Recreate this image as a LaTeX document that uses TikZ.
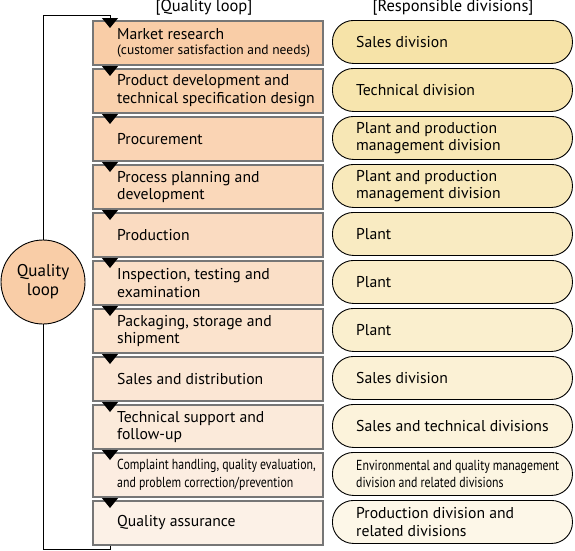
\documentclass[tikz,border=0pt]{standalone}
\usepackage{fontspec}
\setmainfont{PT Sans}
\usepackage{graphicx}
\usetikzlibrary{arrows.meta,positioning,calc}

\definecolor{loopTop}{RGB}{249,205,167}
\definecolor{loopBot}{RGB}{252,241,231}
\definecolor{divTop}{RGB}{246,227,168}
\definecolor{divBot}{RGB}{253,247,232}
\definecolor{edgeGray}{RGB}{118,118,118}
\newcommand{\subtxt}[1]{{\fontsize{13.5}{15}\selectfont #1}}
\newcommand{\narrowtxt}[1]{{\fontsize{14.5}{17}\selectfont\scalebox{0.815}[1]{#1}}}

\begin{document}
\begin{tikzpicture}[x=1pt, y=-1pt, >={Triangle[length=10pt,width=16pt]},
	   font=\fontsize{15.7}{17.5}\selectfont,
	   stepbox/.style={draw=edgeGray, line width=1.6pt, minimum width=230pt, minimum height=44pt, anchor=north west, inner sep=0pt},
	   divbox/.style={draw, line width=0.9pt, rounded corners=21pt, minimum width=240pt, minimum height=43pt, anchor=north west, inner sep=0pt},
	   lbl/.style={anchor=west, align=left, inner sep=0pt},
	   head/.style={font=\fontsize{16.5}{18}\selectfont, inner sep=0pt}]
	  \useasboundingbox (0,0) rectangle (575,550);
	  \node[head] (hloop) at (204,8) {[Quality loop]};
	  \node[head] (hdiv) at (453,8) {[Responsible divisions]};
	  % steps of the loop and who is responsible
	  \foreach \i/\stepname/\divname in {
	      0/{Market research\\[-3pt]\subtxt{(customer satisfaction and needs)}}/{Sales division},
	      1/{Product development and\\technical specification design}/{Technical division},
	      2/{Procurement}/{Plant and production\\management division},
	      3/{Process planning and\\development}/{Plant and production\\management division},
	      4/{Production}/{Plant},
	      5/{Inspection, testing and\\examination}/{Plant},
	      6/{Packaging, storage and\\shipment}/{Plant},
	      7/{Sales and distribution}/{Sales division},
	      8/{Technical support and\\follow-up}/{Sales and technical divisions},
	      9/{\narrowtxt{Complaint handling, quality evaluation,}\\\narrowtxt{and problem correction/prevention}}/{\narrowtxt{Environmental and quality management}\\\narrowtxt{division and related divisions}},
	      10/{Quality assurance}/{Production division and\\related divisions}} {
	    \pgfmathsetmacro{\shade}{100-10*\i}
	    \node[stepbox, fill=loopTop!\shade!loopBot] (s\i) at (92,20+48*\i) {};
	    \node[divbox, fill=divTop!\shade!divBot] (r\i) at (332,20+48*\i) {};
	    \node[lbl] (t\i) at ([xshift=25pt]s\i.west) {\stepname};
	    \node[lbl] (d\i) at ([xshift=24pt]r\i.west) {\divname};
	  }
	  \node[circle, draw, line width=0.9pt, fill=loopTop, minimum size=84pt, align=center, inner sep=0pt, font=\fontsize{17}{19}\selectfont] (ql) at (43,282) {Quality\\loop};
	  % arrows between the steps
	  \foreach \i [evaluate=\i as \j using int(\i+1)] in {0,...,9}
	    \draw[->, line width=1pt] ([xshift=18pt]s\i.south west) -- ([xshift=18pt,yshift=-8pt]s\j.north west);
	  \draw[->, line width=1pt] (ql.north) |- ([xshift=18pt,yshift=5pt]s0.north west) -- ([xshift=18pt,yshift=-8pt]s0.north west);
	  \draw[line width=1pt] ([xshift=18pt]s10.south west) -- ++(0,4) -| (ql.south);
	\end{tikzpicture}
\end{document}
